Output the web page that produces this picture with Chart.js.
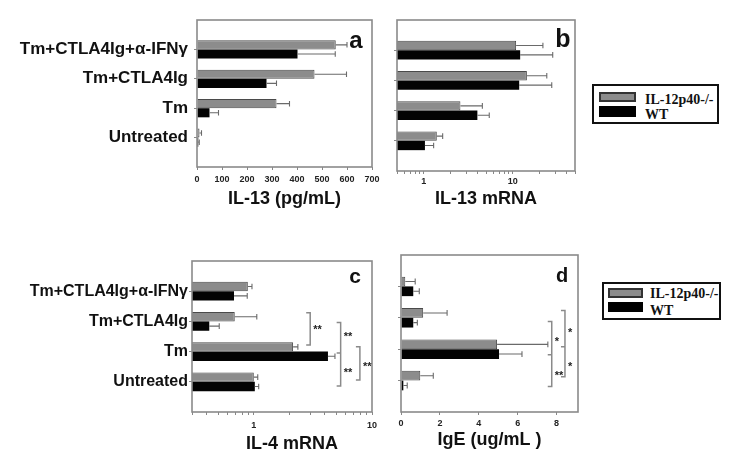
<!DOCTYPE html>
<html><head><meta charset="utf-8">
<script src="https://cdn.jsdelivr.net/npm/chart.js@4.4.0/dist/chart.umd.min.js"></script>
<style>
html,body{margin:0;padding:0;background:#fff;width:750px;height:472px;overflow:hidden;position:relative;}
canvas{position:absolute;}
.legend{position:absolute;border:2px solid #111;box-sizing:border-box;background:#fff;}
.sw{position:absolute;box-sizing:border-box;}
.lt{position:absolute;font:bold 14px "Liberation Serif","Times New Roman",serif;color:#111;line-height:14px;white-space:nowrap;}
</style></head><body>
<canvas id="ca" width="380" height="236" style="left:0;top:0"></canvas>
<canvas id="cb" width="210" height="236" style="left:380px;top:0"></canvas>
<canvas id="cc" width="380" height="236" style="left:0;top:236px"></canvas>
<canvas id="cd" width="210" height="236" style="left:380px;top:236px"></canvas>

<div class="legend" style="left:592px;top:84px;width:127px;height:40px;"></div>
<div class="sw" style="left:599px;top:92px;width:37px;height:10px;background:#8c8c8c;border:2px solid #333;"></div>
<div class="sw" style="left:599px;top:106px;width:37px;height:11px;background:#000;"></div>
<div class="lt" id="l1a" style="left:645px;top:93px;"></div>
<div class="lt" id="l1b" style="left:645px;top:108px;"></div>

<div class="legend" style="left:602px;top:282px;width:119px;height:38px;"></div>
<div class="sw" style="left:608px;top:288px;width:35px;height:10px;background:#8c8c8c;border:2px solid #333;"></div>
<div class="sw" style="left:608px;top:302px;width:35px;height:10px;background:#000;"></div>
<div class="lt" id="l2a" style="left:650px;top:287px;"></div>
<div class="lt" id="l2b" style="left:650px;top:304px;"></div>

<script>
// ---------- data ----------
const categories = ['Tm+CTLA4Ig+\u03B1-IFN\u03B3', 'Tm+CTLA4Ig', 'Tm', 'Untreated'];
const seriesNames = ['IL-12p40-/-', 'WT'];

// panel a: IL-13 (pg/mL)
const il13Protein_KO     = [555, 470, 318, 10];
const il13Protein_KO_err = [45, 128, 52, 8];
const il13Protein_WT     = [402, 278, 50, 5];
const il13Protein_WT_err = [151, 40, 36, 4];
const ticksA = [0, 100, 200, 300, 400, 500, 600, 700];

// panel b: IL-13 mRNA (log)
const il13mRNA_KO     = [10.9, 14.4, 2.58, 1.40];
const il13mRNA_KO_err = [10.9, 9.7, 1.97, 0.23];
const il13mRNA_WT     = [12.1, 11.8, 4.0, 1.03];
const il13mRNA_WT_err = [16.0, 15.6, 1.44, 0.26];
const ticksB  = [0.5, 0.6, 0.7, 0.8, 0.9, 1, 2, 3, 4, 5, 6, 7, 8, 9, 10, 20, 30, 40, 50];
const labelsB = [1, 10];

// panel c: IL-4 mRNA (log)
const il4mRNA_KO     = [0.89, 0.69, 2.15, 1.0];
const il4mRNA_KO_err = [0.075, 0.37, 0.21, 0.08];
const il4mRNA_WT     = [0.68, 0.42, 4.24, 1.02];
const il4mRNA_WT_err = [0.2, 0.09, 0.62, 0.08];
const ticksC  = [0.3, 0.4, 0.5, 0.6, 0.7, 0.8, 0.9, 1, 2, 3, 4, 5, 6, 7, 8, 9, 10];
const labelsC = [1, 10];

// panel d: IgE (ug/mL)
const ige_KO     = [0.22, 1.14, 4.94, 0.99];
const ige_KO_err = [0.51, 1.23, 2.61, 0.67];
const ige_WT     = [0.63, 0.63, 5.04, 0.12];
const ige_WT_err = [0.31, 0.21, 1.18, 0.2];
const ticksD = [0, 2, 4, 6, 8];

// significance brackets: x in data units, from/to/mid in category positions (1 = first row)
const bracketsC = [
  {x: 3.0,  from: 1.71, to: 2.78, mid: null, marks: [{at: 2.19, text: '**'}]},
  {x: 5.43, from: 2.04, to: 4.14, mid: 3.05, marks: [{at: 2.42, text: '**'}, {at: 3.61, text: '**'}]},
  {x: 7.9,  from: 2.84, to: 3.94, mid: null, marks: [{at: 3.41, text: '**'}]}
];
const bracketsD = [
  {x: 7.75, from: 2.12, to: 4.19, mid: 3.18, marks: [{at: 2.67, text: '*'}, {at: 3.76, text: '**'}]},
  {x: 8.43, from: 1.77, to: 3.88, mid: 2.92, marks: [{at: 2.39, text: '*'}, {at: 3.47, text: '*'}]}
];

// ---------- legends ----------
document.getElementById('l1a').textContent = seriesNames[0];
document.getElementById('l1b').textContent = seriesNames[1];
document.getElementById('l2a').textContent = seriesNames[0];
document.getElementById('l2b').textContent = seriesNames[1];

// ---------- plugins ----------
const FONT = "'Liberation Sans', Arial, Helvetica, sans-serif";

const framePlugin = {
  id: 'frame',
  afterDatasetsDraw(chart) {
    const {ctx, chartArea: a} = chart;
    ctx.save();
    ctx.strokeStyle = '#8a8a8a';
    ctx.lineWidth = 1.6;
    ctx.strokeRect(a.left, a.top, a.right - a.left, a.bottom - a.top);
    ctx.restore();
  }
};

const errorPlugin = {
  id: 'errorBars',
  afterDatasetsDraw(chart) {
    const ctx = chart.ctx, xs = chart.scales.x;
    chart.data.datasets.forEach((ds, di) => {
      const meta = chart.getDatasetMeta(di);
      meta.data.forEach((bar, i) => {
        const v = ds.data[i], e = ds.errors ? ds.errors[i] : null;
        if (v == null || e == null) return;
        const x1 = xs.getPixelForValue(v + e);
        const h = bar.height;
        ctx.save();
        ctx.strokeStyle = '#6a6a6a';
        ctx.lineWidth = 1.1;
        ctx.beginPath();
        ctx.moveTo(bar.x, bar.y); ctx.lineTo(x1, bar.y);
        ctx.moveTo(x1, bar.y - h * 0.3); ctx.lineTo(x1, bar.y + h * 0.3);
        ctx.stroke();
        ctx.restore();
      });
    });
  }
};

const bracketPlugin = {
  id: 'brackets',
  afterDatasetsDraw(chart, args, opts) {
    const items = opts.items || [];
    if (!items.length) return;
    const ctx = chart.ctx, xs = chart.scales.x, ys = chart.scales.y;
    ctx.save();
    ctx.strokeStyle = '#8a8a8a';
    ctx.lineWidth = 1.5;
    items.forEach(b => {
      const px = xs.getPixelForValue(b.x);
      const y0 = ys.getPixelForValue(b.from), y1 = ys.getPixelForValue(b.to);
      ctx.beginPath();
      ctx.moveTo(px - 4, y0); ctx.lineTo(px, y0); ctx.lineTo(px, y1); ctx.lineTo(px - 4, y1);
      if (b.mid != null) {
        const ym = ys.getPixelForValue(b.mid);
        ctx.moveTo(px, ym); ctx.lineTo(px - 4, ym);
      }
      ctx.stroke();
      ctx.fillStyle = '#222';
      ctx.font = 'bold 11px ' + FONT;
      ctx.textAlign = 'left';
      ctx.textBaseline = 'middle';
      b.marks.forEach(m => {
        ctx.fillText(m.text, px + 3, ys.getPixelForValue(m.at) + 3);
      });
    });
    ctx.restore();
  }
};

const letterPlugin = {
  id: 'panelLetter',
  afterDraw(chart, args, o) {
    if (!o || !o.text) return;
    const ctx = chart.ctx;
    ctx.save();
    ctx.fillStyle = '#111';
    ctx.font = 'bold ' + o.size + 'px ' + FONT;
    ctx.textAlign = 'center';
    ctx.textBaseline = 'alphabetic';
    ctx.fillText(o.text, o.x, o.y);
    ctx.restore();
  }
};

// ---------- panel builder ----------
function panel(id, o) {
  const labels = ['', ...categories, ''];
  const pad = a => [null, ...a, null];
  return new Chart(document.getElementById(id), {
    type: 'bar',
    data: {
      labels,
      datasets: [
        {label: seriesNames[0], data: pad(o.ko), errors: pad(o.koErr),
         backgroundColor: '#8c8c8c', borderColor: '#4a4a4a', borderWidth: 1,
         categoryPercentage: 0.62, barPercentage: 1},
        {label: seriesNames[1], data: pad(o.wt), errors: pad(o.wtErr),
         backgroundColor: '#030303', borderColor: '#030303', borderWidth: 0,
         categoryPercentage: 0.62, barPercentage: 1}
      ]
    },
    options: {
      indexAxis: 'y',
      responsive: false,
      animation: false,
      devicePixelRatio: 1,
      layout: {padding: {top: o.padTop, right: o.padRight, left: 0, bottom: 0}},
      plugins: {
        legend: {display: false},
        tooltip: {enabled: false},
        brackets: {items: o.brackets || []},
        panelLetter: o.letter
      },
      scales: {
        y: {
          type: 'category',
          offset: false,
          border: {display: false},
          grid: {display: true, offset: false, drawOnChartArea: false, drawTicks: true, tickLength: 3, color: '#888'},
          ticks: {display: o.showCats, padding: o.catPad, color: '#111', autoSkip: false,
                  font: {family: FONT, weight: 'bold', size: o.catSize}},
          afterBuildTicks: s => { s.ticks = s.ticks.filter(t => t.value >= 1 && t.value <= categories.length); },
          afterFit: s => { s.width = o.yWidth; s.paddingTop = 0; s.paddingBottom = 0; s.paddingLeft = 0; s.paddingRight = 0; }
        },
        x: {
          type: o.xType,
          min: o.min, max: o.max,
          border: {display: false},
          grid: {display: true, drawOnChartArea: false, drawTicks: true, tickLength: 3, color: '#888'},
          ticks: {autoSkip: false, maxRotation: 0, minRotation: 0, padding: o.tickPad, color: '#222',
                  font: {family: FONT, weight: 'bold', size: 9},
                  callback: v => o.labeled.includes(v) ? String(v) : ''},
          afterBuildTicks: s => { s.ticks = o.ticks.map(v => ({value: v})); },
          title: {display: true, text: o.title, color: '#111',
                  font: {family: FONT, weight: 'bold', size: 18}, padding: {top: 0, bottom: o.titlePad}},
          afterFit: s => { s.height = o.xHeight; s.paddingTop = 0; s.paddingBottom = 0; s.paddingLeft = 0; s.paddingRight = 0; }
        }
      }
    },
    plugins: [framePlugin, errorPlugin, bracketPlugin, letterPlugin]
  });
}

panel('ca', {
  ko: il13Protein_KO, koErr: il13Protein_KO_err, wt: il13Protein_WT, wtErr: il13Protein_WT_err,
  xType: 'linear', min: 0, max: 700, ticks: ticksA, labeled: ticksA,
  padTop: 20, padRight: 8, yWidth: 197, xHeight: 69, tickPad: 4,
  title: 'IL-13 (pg/mL)', titlePad: 26,
  showCats: true, catSize: 17, catPad: 6,
  letter: {text: 'a', x: 356, y: 48, size: 24}
});

panel('cb', {
  ko: il13mRNA_KO, koErr: il13mRNA_KO_err, wt: il13mRNA_WT, wtErr: il13mRNA_WT_err,
  xType: 'logarithmic', min: 0.5, max: 50, ticks: ticksB, labeled: labelsB,
  padTop: 20, padRight: 15, yWidth: 17, xHeight: 65, tickPad: 2,
  title: 'IL-13 mRNA', titlePad: 26,
  showCats: false, catSize: 16, catPad: 4,
  letter: {text: 'b', x: 183, y: 47, size: 25}
});

panel('cc', {
  ko: il4mRNA_KO, koErr: il4mRNA_KO_err, wt: il4mRNA_WT, wtErr: il4mRNA_WT_err,
  xType: 'logarithmic', min: 0.3, max: 10, ticks: ticksC, labeled: labelsC,
  padTop: 25, padRight: 8, yWidth: 192, xHeight: 60, tickPad: 5,
  title: '    IL-4 mRNA', titlePad: 17,
  showCats: true, catSize: 16, catPad: 1,
  brackets: bracketsC,
  letter: {text: 'c', x: 355, y: 47, size: 21}
});

panel('cd', {
  ko: ige_KO, koErr: ige_KO_err, wt: ige_WT, wtErr: ige_WT_err,
  xType: 'linear', min: 0, max: 9.1, ticks: ticksD, labeled: ticksD,
  padTop: 19, padRight: 12, yWidth: 21, xHeight: 60, tickPad: 3,
  title: 'IgE (ug/mL )', titlePad: 21,
  showCats: false, catSize: 16, catPad: 4,
  brackets: bracketsD,
  letter: {text: 'd', x: 182, y: 46, size: 20}
});
</script>
</body></html>
